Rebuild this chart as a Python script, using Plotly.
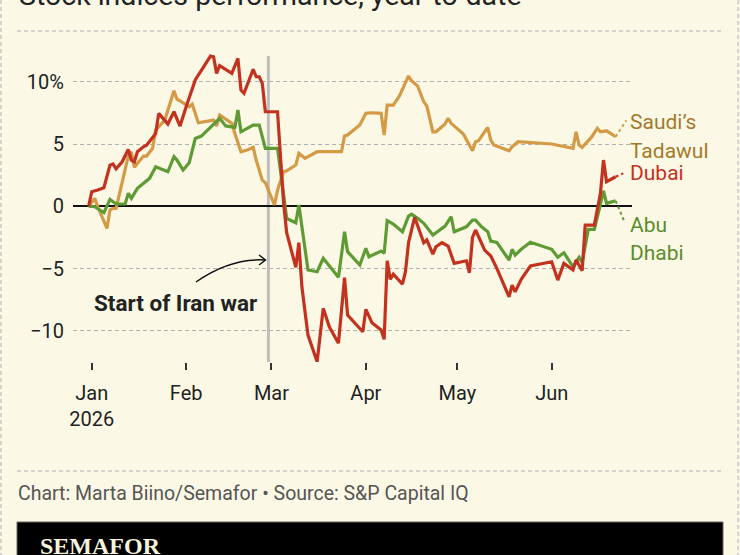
import plotly.graph_objects as go
import pandas as pd

# ---------------- data (day offsets from 1 Jan 2026, % change YTD) ----------------
saudi_days = [-1, 1, 2, 4, 5, 6, 7, 8, 12, 13, 14, 15, 17, 18, 20, 21, 24, 27, 28, 29, 32, 33, 35,
              40, 41, 42, 46, 47, 49, 51, 53, 54, 56, 57, 60, 61, 63, 64, 67, 68, 70, 74, 82, 83,
              84, 86, 88, 90, 92, 95, 96, 97, 99, 101, 104, 105, 107, 109, 110, 112, 113, 116,
              117, 118, 122, 125, 126, 127, 130, 131, 132, 134, 137, 138, 140, 151, 154, 158,
              159, 160, 161, 164, 166, 167, 169, 172]
saudi_vals = [0, 0.63, -0.04, -1.11, -1.78, -0.31, -0.17, -0.17, 4.03, 4.38, 3.12, 3.44, 4.03,
              4.03, 4.65, 6.12, 6.92, 9.28, 8.59, 8.47, 7.99, 8.2, 6.71, 6.92, 6.44, 7.33, 6.66,
              5.85, 4.38, 4.51, 4.73, 3.71, 2.1, 1.89, 0.1, 1.3, 2.77, 2.85, 3.31, 4.25, 3.85,
              4.38, 4.38, 5.64, 5.72, 6.12, 6.52, 7.46, 7.51, 7.46, 5.72, 8.13, 8.13, 8.85,
              10.46, 10.08, 9.65, 8.39, 8.05, 5.98, 5.98, 6.6, 7.06, 6.66, 5.8, 4.46, 5.18, 5.26,
              6.34, 5.32, 4.92, 4.73, 4.46, 4.78, 5.18, 5.0, 4.84, 4.65, 5.98, 4.92, 4.73, 5.53,
              6.26, 5.98, 6.06, 5.58]

abu_days = [-1, 1, 4, 6, 8, 11, 12, 13, 15, 19, 21, 25, 27, 28, 30, 32, 34, 36, 42, 44, 47, 48,
            49, 53, 55, 57, 61, 64, 67, 68, 71, 74, 76, 81, 83, 84, 88, 90, 91, 95, 96, 97, 99,
            102, 104, 105, 107, 109, 112, 114, 116, 118, 119, 123, 125, 126, 128, 130, 131, 133,
            137, 138, 139, 141, 144, 151, 153, 155, 158, 160, 161, 163, 165, 167, 168, 169, 172]
abu_vals = [0, -0.04, -0.52, 0.55, 0.18, 0.18, 1.04, 0.63, 1.44, 2.24, 3.17, 2.77, 3.98, 3.71,
            2.91, 3.49, 5.45, 5.64, 7.06, 6.45, 6.34, 7.73, 5.98, 6.52, 6.52, 4.65, 4.65, -0.97,
            -1.33, 0.1, -5.12, -5.26, -4.18, -5.71, -2.05, -3.65, -4.72, -3.38, -4.06, -3.6,
            -3.78, -1.16, -1.43, -2.05, -0.79, -0.63, -0.97, -1.37, -2.31, -1.91, -1.59, -0.84,
            -2.05, -1.65, -1.11, -1.11, -1.65, -2.05, -2.8, -2.9, -4.32, -3.46, -3.92, -3.46,
            -2.9, -3.46, -4.1, -3.73, -4.86, -4.1, -4.54, -1.86, -1.86, 0.18, 1.24, 0.23, 0.44]

dubai_days = [-1, 0, 2, 4, 6, 7, 8, 10, 12, 13, 14, 15, 17, 18, 20, 21, 22, 23, 25, 27, 29, 31,
              34, 35, 39, 40, 41, 42, 46, 48, 49, 50, 53, 54, 55, 56, 57, 61, 63, 64, 67, 68, 69,
              71, 74, 76, 78, 81, 83, 84, 86, 89, 90, 92, 95, 96, 97, 98, 99, 102, 103, 104, 106,
              109, 110, 112, 113, 115, 117, 119, 123, 124, 125, 126, 129, 131, 133, 137, 138,
              139, 141, 144, 151, 153, 155, 158, 159, 161, 162, 165, 167, 168, 169, 172]
dubai_vals = [0, 1.17, 1.3, 1.49, 3.3, 3.4, 3.0, 3.57, 4.57, 3.7, 3.57, 4.38, 4.78, 4.9, 5.53,
              5.85, 7.46, 7.19, 6.6, 7.59, 6.44, 8.0, 10.14, 10.54, 12.06, 12.0, 10.67, 11.3,
              10.67, 11.88, 9.33, 9.07, 11.0, 10.4, 10.4, 9.87, 7.59, 7.59, 0.23, -2.13, -4.9,
              -2.93, -6.47, -10.35, -12.49, -8.2, -9.68, -11.0, -5.74, -8.74, -9.28, -10.08,
              -8.28, -9.36, -9.94, -10.69, -4.38, -5.87, -5.45, -6.25, -5.26, -2.93, -0.89,
              -2.93, -2.71, -3.84, -3.25, -2.93, -3.2, -4.59, -4.38, -5.34, -2.5, -1.91, -3.52,
              -4.0, -4.99, -7.27, -6.33, -6.87, -5.87, -4.8, -4.46, -5.93, -4.59, -5.12, -4.32,
              -5.18, -1.51, -1.51, 1.04, 3.71, 1.97, 2.37]

# label anchor points (day offset, value) for the dotted leader lines
label_day = {"saudi": 175.5, "dubai": 174.5, "abu": 175.0}
label_val = {"saudi": 6.9, "dubai": 2.64, "abu": -1.33}

month_ticks = ["2026-01-01", "2026-02-01", "2026-03-01", "2026-04-01", "2026-05-01", "2026-06-01"]
month_labels = ["Jan<br>2026", "Feb", "Mar", "Apr", "May", "Jun"]
y_ticks = [-10, -5, 0, 5, 10]
y_labels = ["\u221210", "\u22125", "0", "5", "10%"]
war_date = "2026-02-28"

# ---------------- styling ----------------
BG = "#fbf9e6"
C_SAUDI, C_SAUDI_T = "#d49a45", "#a47a2a"
C_DUBAI, C_DUBAI_T = "#c2321f", "#c2321f"
C_ABU, C_ABU_T = "#5f9b35", "#5a8c2c"
FONT = "Roboto"

base = pd.Timestamp("2026-01-01")
def dates(days):
    return [base + pd.Timedelta(days=d) for d in days]

W, H = 740, 555
L, R, T, B = 73, 108, 50, 193
PW, PH = W - L - R, H - T - B
def px(x):
    return (x - L) / PW
def py(y):
    return (H - B - y) / PH

fig = go.Figure()
series = [
    ("saudi", saudi_days, saudi_vals, C_SAUDI),
    ("abu", abu_days, abu_vals, C_ABU),
    ("dubai", dubai_days, dubai_vals, C_DUBAI),
]
for key, d, v, c in series:
    fig.add_trace(go.Scatter(x=dates([d[-1], label_day[key]]), y=[v[-1], label_val[key]],
                             mode="lines", line=dict(color=c, width=2, dash="dot"),
                             hoverinfo="skip", showlegend=False))
for key, d, v, c in series:
    fig.add_trace(go.Scatter(x=dates(d), y=v, mode="lines",
                             line=dict(color=c, width=3.2, shape="linear"),
                             showlegend=False, name=key))

# war line
fig.add_shape(type="line", xref="x", yref="y", x0=war_date, x1=war_date,
              y0=-12.51, y1=12.06, line=dict(color="#bdbdbd", width=3), layer="below")

# curved arrow + chevron head
fig.add_shape(type="path", xref="paper", yref="paper",
              path=f"M {px(196)},{py(282)} Q {px(230)},{py(258)} {px(265)},{py(260)}",
              line=dict(color="#111", width=1.5))
fig.add_shape(type="path", xref="paper", yref="paper",
              path=f"M {px(259)},{py(255)} L {px(265.5)},{py(260)} L {px(259)},{py(265)}",
              line=dict(color="#111", width=1.5))

# separators and border
for yy in (31, 471):
    fig.add_shape(type="line", xref="paper", yref="paper", x0=px(17), x1=px(723),
                  y0=py(yy), y1=py(yy), line=dict(color="#c8c8c8", width=1.5, dash="4px,3px"))
for xx in (1, 738):
    fig.add_shape(type="line", xref="paper", yref="paper", x0=px(xx), x1=px(xx),
                  y0=py(0), y1=py(555), line=dict(color="#c8c8c8", width=1.5, dash="4px,3px"))
fig.add_shape(type="rect", xref="paper", yref="paper", x0=px(17), x1=px(723),
              y0=py(522), y1=py(560), fillcolor="#000", line=dict(width=1, color="#6b6757"))

ann = [
    dict(text="Stock indices performance, year-to-date", x=px(17), y=py(14), xanchor="left",
         yanchor="bottom", font=dict(size=28.5, color="#222", family=FONT)),
    dict(text="Start of Iran war", x=px(175), y=py(303), xanchor="center", yanchor="middle",
         font=dict(size=22.5, color="#222", family=FONT, weight="bold")),
    dict(text="Saudi\u2019s", x=1.0, y=py(122), xanchor="left", yanchor="middle", xshift=-4,
         font=dict(size=21, color=C_SAUDI_T, family=FONT)),
    dict(text="Tadawul", x=1.0, y=py(151), xanchor="left", yanchor="middle", xshift=-4,
         font=dict(size=21, color=C_SAUDI_T, family=FONT)),
    dict(text="Dubai", x=1.0, y=py(173), xanchor="left", yanchor="middle", xshift=-4,
         font=dict(size=21, color=C_DUBAI_T, family=FONT)),
    dict(text="Abu", x=1.0, y=py(225), xanchor="left", yanchor="middle", xshift=-4,
         font=dict(size=21, color=C_ABU_T, family=FONT)),
    dict(text="Dhabi", x=1.0, y=py(253), xanchor="left", yanchor="middle", xshift=-4,
         font=dict(size=21, color=C_ABU_T, family=FONT)),
    dict(text="Chart: Marta Biino/Semafor \u2022 Source: S&P Capital IQ", x=px(16), y=py(493),
         xanchor="left", yanchor="middle", font=dict(size=19.5, color="#555", family=FONT)),
    dict(text="SEMAFOR", x=px(38), y=py(531), xanchor="left", yanchor="top",
         font=dict(size=24, color="#f7f4de", family="Liberation Serif", weight="bold")),
]
for a in ann:
    a.update(xref="paper", yref="paper", showarrow=False)
    fig.add_annotation(**a)

fig.update_layout(
    width=W, height=H, margin=dict(l=L, r=R, t=T, b=B),
    paper_bgcolor=BG, plot_bgcolor=BG, showlegend=False,
    font=dict(family=FONT, color="#222", size=20),
    xaxis=dict(type="date", range=["2025-12-25 20:38", "2026-06-27 08:40"],
               tickvals=month_ticks, ticktext=month_labels, showgrid=False, zeroline=False,
               showline=False, ticks="outside", ticklen=7, tickwidth=1.5, tickcolor="#333",
               tickfont=dict(size=20, color="#222"), ticklabelstandoff=6),
    yaxis=dict(range=[-12.51, 12.55], tickvals=y_ticks, ticktext=y_labels, showgrid=True,
               gridcolor="#b0b0b0", gridwidth=1.2, griddash="4px,3px", zeroline=True,
               zerolinecolor="#111", zerolinewidth=1.5, showline=False, ticks="",
               tickfont=dict(size=20, color="#222"), ticklabelstandoff=8),
)

fig.write_html("out.html")
